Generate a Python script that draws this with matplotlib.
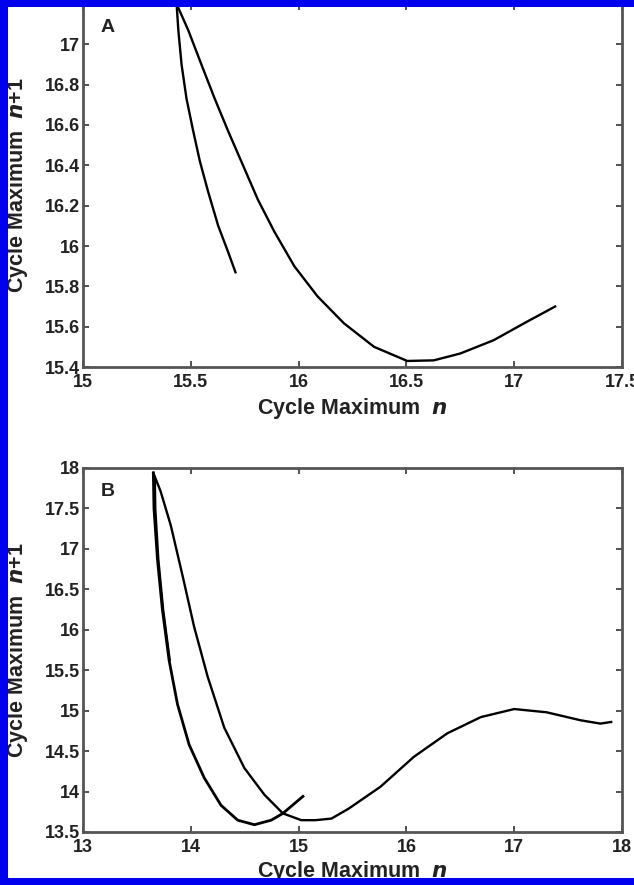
import matplotlib.pyplot as plt
from matplotlib.patches import Rectangle
from matplotlib.ticker import FormatStrFormatter

plt.rcParams['font.family'] = ['Liberation Sans', 'DejaVu Sans']

# panel A: return map, two branches meeting at the top
a_left_x = [15.434, 15.442, 15.457, 15.48, 15.511, 15.542, 15.58, 15.627, 15.673, 15.707]
a_left_y = [17.20, 17.07, 16.90, 16.73, 16.57, 16.42, 16.27, 16.10, 15.97, 15.87]
a_right_x = [15.434, 15.488, 15.549, 15.611, 15.673, 15.742, 15.811, 15.888, 15.98,
             16.088, 16.21, 16.35, 16.504, 16.627, 16.75, 16.905, 17.06, 17.19]
a_right_y = [17.20, 17.07, 16.90, 16.73, 16.57, 16.40, 16.23, 16.07, 15.90,
             15.75, 15.617, 15.50, 15.43, 15.433, 15.467, 15.533, 15.625, 15.70]

# panel B: left strand from the tail end up to the peak
b_left_x = [15.04, 14.854, 14.746, 14.59, 14.435, 14.28, 14.124, 13.984, 13.876,
            13.798, 13.736, 13.69, 13.658, 13.652]
b_left_y = [13.94, 13.73, 13.646, 13.59, 13.646, 13.83, 14.17, 14.58, 15.08,
            15.625, 16.25, 16.875, 17.50, 17.94]
# right strand from the peak down, then out to the right
b_right_x = [13.652, 13.72, 13.814, 13.923, 14.03, 14.156, 14.31, 14.497, 14.683,
             14.854, 15.025, 15.156, 15.305, 15.466, 15.76, 16.07, 16.38, 16.69,
             17.00, 17.30, 17.62, 17.80, 17.90]
b_right_y = [17.94, 17.71, 17.29, 16.67, 16.04, 15.42, 14.79, 14.29, 13.96,
             13.73, 13.646, 13.646, 13.666, 13.79, 14.06, 14.43, 14.72, 14.92,
             15.02, 14.98, 14.88, 14.84, 14.86]
# inner strand forming the small loop near the peak
b_inner_x = [13.668, 13.672, 13.70, 13.745, 13.806]
b_inner_y = [17.86, 17.50, 16.875, 16.25, 15.625]

a_xticks = [15, 15.5, 16, 16.5, 17, 17.5]
a_yticks = [15.4, 15.6, 15.8, 16.0, 16.2, 16.4, 16.6, 16.8, 17.0]
b_xticks = [13, 14, 15, 16, 17, 18]
b_yticks = [13.5, 14, 14.5, 15, 15.5, 16, 16.5, 17, 17.5, 18]

fig = plt.figure(figsize=(6.34, 8.85), dpi=100)
axA = fig.add_axes([0.131, 0.5853, 0.850, 0.4102])
axB = fig.add_axes([0.131, 0.0599, 0.850, 0.4113])

axA.plot(a_left_x, a_left_y, color='black', lw=1.7)
axA.plot(a_right_x, a_right_y, color='black', lw=1.7)
axA.set_xlim(15, 17.5)
axA.set_ylim(15.4, 17.2)
axA.set_xticks(a_xticks)
axA.set_yticks(a_yticks)

axB.plot(b_left_x, b_left_y, color='black', lw=2.0)
axB.plot(b_right_x, b_right_y, color='black', lw=1.7)
axB.plot(b_inner_x, b_inner_y, color='black', lw=1.4)
axB.set_xlim(13, 18)
axB.set_ylim(13.5, 18)
axB.set_xticks(b_xticks)
axB.set_yticks(b_yticks)

for ax, letter, xlab_y in [(axA, 'A', -0.08), (axB, 'B', -0.074)]:
    ax.xaxis.set_major_formatter(FormatStrFormatter('%g'))
    ax.yaxis.set_major_formatter(FormatStrFormatter('%g'))
    ax.tick_params(direction='in', top=True, right=True, length=4, width=1.2,
                   color='#333333', labelsize=13)
    ax.tick_params(axis='x', pad=5)
    ax.tick_params(axis='y', pad=2)
    for lab in ax.get_xticklabels() + ax.get_yticklabels():
        lab.set_fontweight('bold')
        lab.set_color('#222222')
    for sp in ax.spines.values():
        sp.set_linewidth(2.0)
        sp.set_color('#555555')
    ax.set_xlabel('Cycle Maximum  $\\mathbfit{n}$', fontsize=15.5, fontweight='bold',
                  color='#222222')
    ax.set_ylabel('Cycle Maximum  $\\mathbfit{n}$+1', fontsize=15.5, fontweight='bold',
                  color='#222222', va='center')
    ax.xaxis.set_label_coords(0.5, xlab_y)
    ax.yaxis.set_label_coords(-0.122, 0.5)
    ax.text(0.032, 0.935, letter, transform=ax.transAxes, fontsize=14,
            fontweight='bold', color='#222222', ha='left', va='center')

# blue frame along left, top and bottom edges
blue = '#0000ee'
for rect in [(0, 0, 8 / 634, 1), (0, 1 - 7 / 885, 1, 7 / 885), (0, 0, 1, 7 / 885)]:
    fig.patches.append(Rectangle(rect[:2], rect[2], rect[3], transform=fig.transFigure,
                                 facecolor=blue, edgecolor='none', zorder=10))

fig.savefig('out.png', dpi=100)
